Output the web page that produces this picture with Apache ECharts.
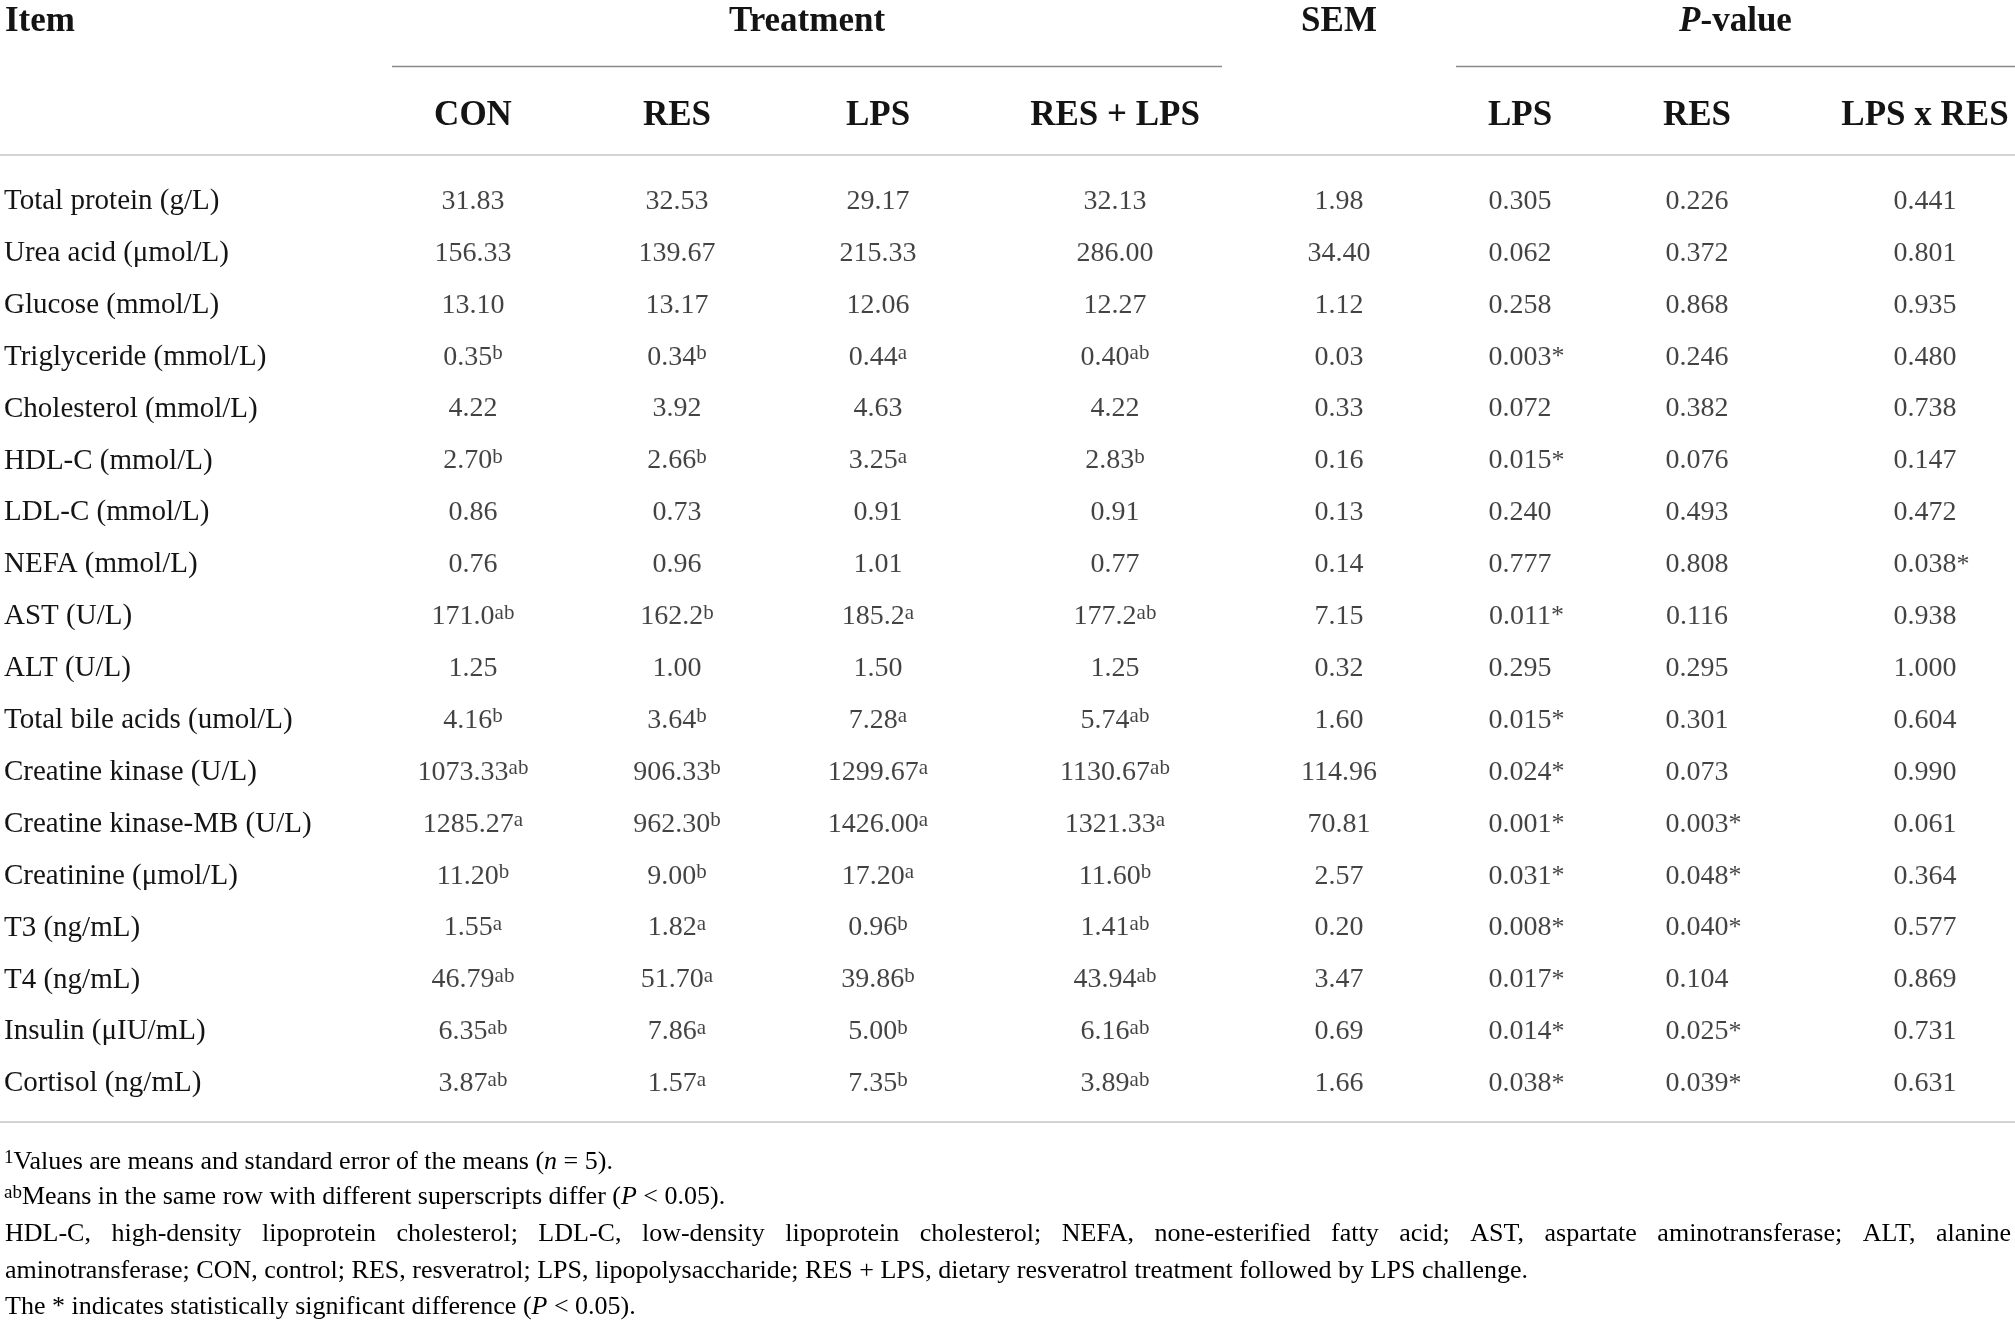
<!DOCTYPE html>
<html>
<head>
<meta charset="utf-8">
<title>Serum biochemical parameters</title>
<script src="https://cdn.jsdelivr.net/npm/echarts@6/dist/echarts.min.js"></script>
<style>
  html, body { margin: 0; padding: 0; background: #fff; }
  #chart-container { width: 2015px; height: 1327px; }
</style>
</head>
<body>
<div id="chart-container"></div>
<script>
var dom = document.getElementById('chart-container');
var myChart = echarts.init(dom, null, { renderer: 'canvas' });

// row names
var items = ['Total protein (g/L)', 'Urea acid (\u03bcmol/L)', 'Glucose (mmol/L)', 'Triglyceride (mmol/L)',
  'Cholesterol (mmol/L)', 'HDL-C (mmol/L)', 'LDL-C (mmol/L)', 'NEFA (mmol/L)', 'AST (U/L)', 'ALT (U/L)',
  'Total bile acids (umol/L)', 'Creatine kinase (U/L)', 'Creatine kinase-MB (U/L)', 'Creatinine (\u03bcmol/L)',
  'T3 (ng/mL)', 'T4 (ng/mL)', 'Insulin (\u03bcIU/mL)', 'Cortisol (ng/mL)'];

// treatment means, trailing letters are superscripts
var con = ['31.83', '156.33', '13.10', '0.35b', '4.22', '2.70b', '0.86', '0.76', '171.0ab', '1.25', '4.16b',
  '1073.33ab', '1285.27a', '11.20b', '1.55a', '46.79ab', '6.35ab', '3.87ab'];
var res = ['32.53', '139.67', '13.17', '0.34b', '3.92', '2.66b', '0.73', '0.96', '162.2b', '1.00', '3.64b',
  '906.33b', '962.30b', '9.00b', '1.82a', '51.70a', '7.86a', '1.57a'];
var lps = ['29.17', '215.33', '12.06', '0.44a', '4.63', '3.25a', '0.91', '1.01', '185.2a', '1.50', '7.28a',
  '1299.67a', '1426.00a', '17.20a', '0.96b', '39.86b', '5.00b', '7.35b'];
var resLps = ['32.13', '286.00', '12.27', '0.40ab', '4.22', '2.83b', '0.91', '0.77', '177.2ab', '1.25', '5.74ab',
  '1130.67ab', '1321.33a', '11.60b', '1.41ab', '43.94ab', '6.16ab', '3.89ab'];
var sem = ['1.98', '34.40', '1.12', '0.03', '0.33', '0.16', '0.13', '0.14', '7.15', '0.32', '1.60',
  '114.96', '70.81', '2.57', '0.20', '3.47', '0.69', '1.66'];

// P-values, * = significant
var pLps = ['0.305', '0.062', '0.258', '0.003*', '0.072', '0.015*', '0.240', '0.777', '0.011*', '0.295', '0.015*',
  '0.024*', '0.001*', '0.031*', '0.008*', '0.017*', '0.014*', '0.038*'];
var pRes = ['0.226', '0.372', '0.868', '0.246', '0.382', '0.076', '0.493', '0.808', '0.116', '0.295', '0.301',
  '0.073', '0.003*', '0.048*', '0.040*', '0.104', '0.025*', '0.039*'];
var pInt = ['0.441', '0.801', '0.935', '0.480', '0.738', '0.147', '0.472', '0.038*', '0.938', '1.000', '0.604',
  '0.990', '0.061', '0.364', '0.577', '0.869', '0.731', '0.631'];

var columns = [con, res, lps, resLps, sem, pLps, pRes, pInt];
var colNames = ['CON', 'RES', 'LPS', 'RES + LPS', '', 'LPS', 'RES', 'LPS x RES'];

// layout: column centres in pixels
var colX = [473, 677, 878, 1115, 1339, 1520, 1697, 1925];

var FONT = '"Liberation Serif", "DejaVu Serif", serif';
var INK = '#141414';
var W = 2015;

function cell(s) {
  if (s.charAt(s.length - 1) === '*') {
    return '{ph|*}{v|' + s.slice(0, -1) + '}{st|*}';
  }
  var m = s.match(/^([\d.]+)([a-z]*)$/);
  return m[2] ? '{v|' + m[1] + '}{sup|' + m[2] + '}' : '{v|' + s + '}';
}

var cellRich = {
  v: { fontSize: 28, lineHeight: 28, fontFamily: FONT, color: INK },
  sup: { fontSize: 21, lineHeight: 10, fontFamily: FONT, color: INK, verticalAlign: 'top' },
  st: { fontSize: 26, fontFamily: FONT, color: INK },
  ph: { fontSize: 26, fontFamily: FONT, color: 'rgba(0,0,0,0)' }
};

var series = columns.map(function (col, c) {
  return {
    type: 'scatter',
    silent: true,
    symbolSize: 1,
    itemStyle: { color: 'rgba(0,0,0,0)' },
    data: col.map(function (s, i) { return [colX[c], i]; }),
    label: {
      show: true,
      position: 'inside',
      formatter: function (p) { return cell(col[p.dataIndex]); },
      rich: cellRich
    }
  };
});

// header + rules + notes
var graphic = [];
function hText(x, y, text, align, rich) {
  graphic.push({
    type: 'text', x: x, y: y, silent: true,
    style: {
      text: text, align: align || 'center', verticalAlign: 'middle',
      font: 'bold 35px ' + FONT, fill: INK, rich: rich
    }
  });
}
hText(5, 22, 'Item', 'left');
hText((392 + 1222) / 2, 22, 'Treatment');
hText(colX[4], 22, 'SEM');
hText((1456 + 2015) / 2, 22, '{i|P}{b|-value}', 'center', {
  i: { fontSize: 35, fontFamily: FONT, fontWeight: 'bold', fontStyle: 'italic', color: INK },
  b: { fontSize: 35, fontFamily: FONT, fontWeight: 'bold', color: INK }
});
colNames.forEach(function (n, c) { if (n) hText(colX[c], 116, n); });

function rule(x1, x2, y, color) {
  graphic.push({
    type: 'line', silent: true,
    shape: { x1: x1, y1: y, x2: x2, y2: y },
    style: { stroke: color, lineWidth: 1.5 }
  });
}
rule(392, 1222, 66.5, '#8a8a8a');
rule(1456, 2015, 66.5, '#8a8a8a');
rule(0, W, 155, '#c4c4c4');
rule(0, W, 1122, '#c4c4c4');

var NOTE = 26;
var noteRich = {
  t: { fontSize: NOTE, lineHeight: 26, fontFamily: FONT, color: INK },
  i: { fontSize: NOTE, lineHeight: 26, fontFamily: FONT, fontStyle: 'italic', color: INK },
  s: { fontSize: 19, lineHeight: 10, fontFamily: FONT, color: INK, verticalAlign: 'top' }
};
var noteY = [1162, 1197, 1234, 1271, 1307];
function note(x, y, text) {
  graphic.push({
    type: 'text', x: x, y: y, silent: true,
    style: { text: text, align: 'left', verticalAlign: 'middle', rich: noteRich }
  });
}
note(4, noteY[0], '{s|1}{t|Values are means and standard error of the means (}{i|n}{t| = 5).}');
note(4, noteY[1], '{s|ab}{t|Means in the same row with different superscripts differ (}{i|P}{t| < 0.05).}');

// justified abbreviation line
var justWords = 'HDL-C, high-density lipoprotein cholesterol; LDL-C, low-density lipoprotein cholesterol; NEFA, none-esterified fatty acid; AST, aspartate aminotransferase; ALT, alanine'.split(' ');
var ctx = document.createElement('canvas').getContext('2d');
ctx.font = NOTE + 'px ' + FONT;
var widths = justWords.map(function (w) { return ctx.measureText(w).width; });
var total = widths.reduce(function (a, b) { return a + b; }, 0);
var gap = (2011 - 5 - total) / (justWords.length - 1);
var cx = 5;
justWords.forEach(function (w, k) {
  note(cx, noteY[2], '{t|' + w + '}');
  cx += widths[k] + gap;
});
note(5, noteY[3], '{t|aminotransferase; CON, control; RES, resveratrol; LPS, lipopolysaccharide; RES + LPS, dietary resveratrol treatment followed by LPS challenge.}');
note(5, noteY[4], '{t|The * indicates statistically significant difference (}{i|P}{t| < 0.05).}');

var option = {
  backgroundColor: '#fff',
  animation: false,
  grid: { left: 0, right: 0, top: 175.5, height: 18 * 51.9 },
  xAxis: { type: 'value', min: 0, max: W, show: false },
  yAxis: {
    type: 'category',
    inverse: true,
    data: items,
    axisLine: { show: false },
    axisTick: { show: false },
    splitLine: { show: false },
    axisLabel: {
      inside: true, align: 'left', margin: 4,
      fontSize: 29, fontFamily: FONT, color: INK
    }
  },
  graphic: graphic,
  series: series
};

myChart.setOption(option);
window.addEventListener('resize', myChart.resize);
</script>
</body>
</html>
